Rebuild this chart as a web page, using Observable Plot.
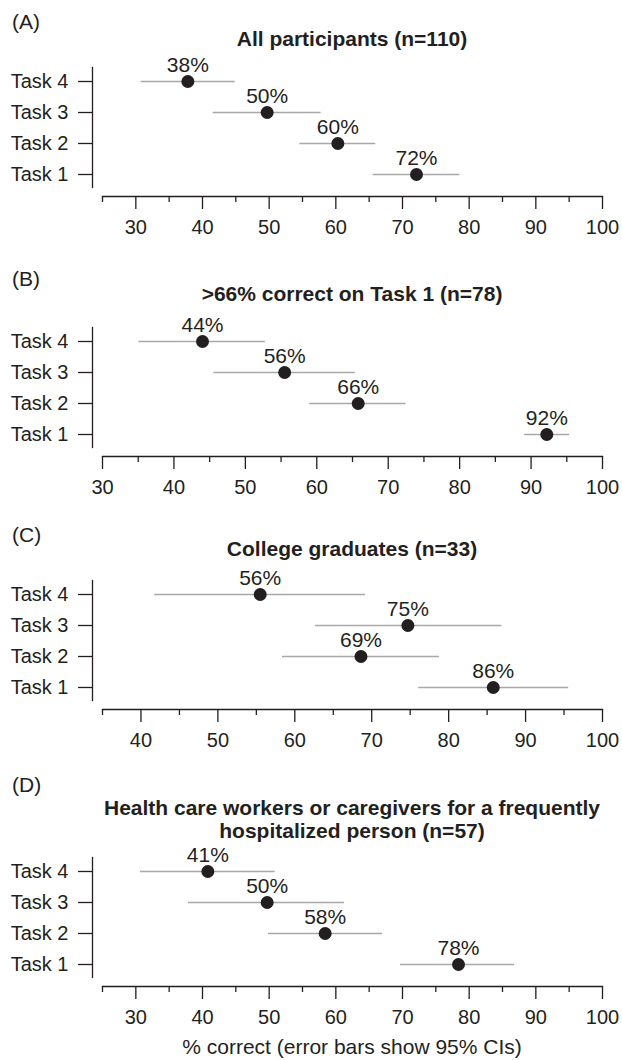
<!DOCTYPE html>
<html>
<head>
<meta charset="utf-8">
<script src="https://cdn.jsdelivr.net/npm/d3@7"></script>
<script src="https://cdn.jsdelivr.net/npm/@observablehq/plot@0.6"></script>
<style>
  html, body { margin: 0; padding: 0; background: #fff; }
  #root { position: relative; width: 622px; height: 1060px; font-family: "Liberation Sans", Arial, Helvetica, sans-serif; color: #231f20; }
  .letter { position: absolute; left: 12px; font-size: 21px; line-height: 24px; }
  .title { position: absolute; left: 102px; width: 500px; text-align: center; font-weight: bold; font-size: 21px; line-height: 23px; }
  .caption { position: absolute; left: 102px; width: 500px; text-align: center; font-size: 21px; line-height: 24px; }
  .panel { position: absolute; left: 0; }
</style>
</head>
<body>
<div id="root"></div>
<script>
// ---- data ----
const tasks = ["Task 1", "Task 2", "Task 3", "Task 4"];

const letters = ["(A)", "(B)", "(C)", "(D)"];
const titles = [
  "All participants (n=110)",
  ">66% correct on Task 1 (n=78)",
  "College graduates (n=33)",
  "Health care workers or caregivers for a frequently hospitalized person (n=57)"
];
const captionText = "% correct (error bars show 95% CIs)";

// panel A: all participants
const estA = [72.1, 60.3, 49.7, 37.8];
const loA = [65.6, 54.6, 41.6, 30.8];
const hiA = [78.6, 66.0, 57.8, 44.9];
const labA = [72, 60, 50, 38];

// panel B: >66% correct on Task 1
const estB = [92.2, 65.8, 55.5, 44.0];
const loB = [89.1, 59.0, 45.6, 35.1];
const hiB = [95.4, 72.5, 65.4, 52.8];
const labB = [92, 66, 56, 44];

// panel C: college graduates
const estC = [85.8, 68.6, 74.7, 55.5];
const loC = [76.1, 58.4, 62.7, 41.8];
const hiC = [95.6, 78.8, 86.9, 69.2];
const labC = [86, 69, 75, 56];

// panel D: health care workers / caregivers
const estD = [78.4, 58.4, 49.7, 40.8];
const loD = [69.7, 49.9, 37.9, 30.7];
const hiD = [86.8, 67.0, 61.3, 50.9];
const labD = [78, 58, 50, 41];

// axes
const domainA = [25, 100], majorA = [30, 40, 50, 60, 70, 80, 90, 100], minorA = [25, 35, 45, 55, 65, 75, 85, 95];
const domainB = [30, 100], majorB = [30, 40, 50, 60, 70, 80, 90, 100], minorB = [35, 45, 55, 65, 75, 85, 95];
const domainC = [35, 100], majorC = [40, 50, 60, 70, 80, 90, 100], minorC = [35, 45, 55, 65, 75, 85, 95];
const domainD = [25, 100], majorD = [30, 40, 50, 60, 70, 80, 90, 100], minorD = [25, 35, 45, 55, 65, 75, 85, 95];

// ---- layout ----
const INK = "#231f20";
const panels = [
  {est: estA, lo: loA, hi: hiA, lab: labA, domain: domainA, major: majorA, minor: minorA, frameTop: 66.5, letterY: 22, titleY: 38},
  {est: estB, lo: loB, hi: hiB, lab: labB, domain: domainB, major: majorB, minor: minorB, frameTop: 326.5, letterY: 279, titleY: 293},
  {est: estC, lo: loC, hi: hiC, lab: labC, domain: domainC, major: majorC, minor: minorC, frameTop: 579.5, letterY: 535, titleY: 548},
  {est: estD, lo: loD, hi: hiD, lab: labD, domain: domainD, major: majorD, minor: minorD, frameTop: 856.5, letterY: 785, titleY: 807}
];

const root = document.getElementById("root");
const MT = 30, FH = 120, MB = 60;

panels.forEach((p, i) => {
  const data = tasks.map((t, k) => ({task: t, est: p.est[k], lo: p.lo[k], hi: p.hi[k], lab: p.lab[k]}));

  const letter = document.createElement("div");
  letter.className = "letter";
  letter.style.top = (p.letterY - 12) + "px";
  letter.textContent = letters[i];
  root.appendChild(letter);

  const title = document.createElement("div");
  title.className = "title";
  title.style.top = (p.titleY - 11.5) + "px";
  title.textContent = titles[i];
  root.appendChild(title);

  const chart = Plot.plot({
    width: 622,
    height: MT + FH + MB,
    marginTop: MT,
    marginBottom: MB,
    marginLeft: 102,
    marginRight: 20,
    style: {fontFamily: "'Liberation Sans', Arial, Helvetica, sans-serif", fontSize: "20px", color: INK, background: "transparent", overflow: "visible"},
    x: {domain: p.domain},
    y: {domain: ["Task 4", "Task 3", "Task 2", "Task 1"], type: "point", padding: 0.435},
    marks: [
      Plot.frame({anchor: "left", dx: -10, stroke: INK, strokeWidth: 1.3}),
      Plot.frame({anchor: "bottom", dy: 9, stroke: INK, strokeWidth: 1.3}),
      Plot.axisY({tickSize: 14, tickPadding: 10, dx: -10, label: null, color: INK, strokeWidth: 1.3, fontSize: 20}),
      Plot.axisX(p.major, {tickSize: 13, tickPadding: 10, dy: 9, label: null, color: INK, strokeWidth: 1.3, fontSize: 20}),
      Plot.axisX(p.minor, {tickSize: 6, tickFormat: () => "", dy: 9, label: null, color: INK, strokeWidth: 1.3}),
      Plot.ruleY(data, {y: "task", x1: "lo", x2: "hi", stroke: "#a8a8a8", strokeWidth: 1.6}),
      Plot.dot(data, {x: "est", y: "task", r: 6.5, fill: INK, stroke: "none"}),
      Plot.text(data, {x: "est", y: "task", text: d => d.lab + "%", dy: -16, fontSize: 21, fill: INK})
    ]
  });
  const wrap = document.createElement("div");
  wrap.className = "panel";
  wrap.style.top = (p.frameTop - MT) + "px";
  wrap.appendChild(chart);
  root.appendChild(wrap);
});

const cap = document.createElement("div");
cap.className = "caption";
cap.style.top = (1047 - 12) + "px";
cap.textContent = captionText;
root.appendChild(cap);
</script>
</body>
</html>
